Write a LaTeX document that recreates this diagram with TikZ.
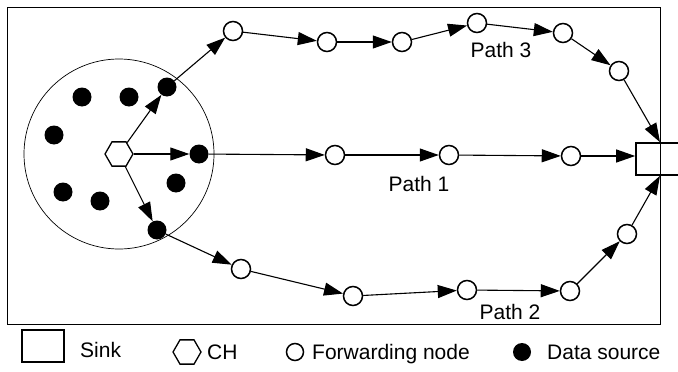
\documentclass[tikz,border=0pt]{standalone}
\usepackage{fontspec}
\setmainfont{Liberation Sans}
\usetikzlibrary{arrows.meta,shapes.geometric}
\begin{document}
\begin{tikzpicture}[x=1pt,y=-1pt,
  fwd/.style={circle,draw,line width=1.5pt,fill=white,minimum size=19pt,inner sep=0pt},
  src/.style={circle,fill=black,minimum size=19pt,inner sep=0pt},
  chnode/.style={regular polygon,regular polygon sides=6,draw,line width=1.3pt,fill=white,minimum size=28pt,inner sep=0pt},
  sinkbox/.style={rectangle,draw,line width=1.6pt,minimum width=48pt,minimum height=32pt,inner sep=0pt},
  link/.style={-{Triangle[length=19pt,width=13pt]},line width=1.1pt},
  lbl/.style={font=\fontsize{21}{25}\selectfont,inner sep=0pt}]
\clip (0,0) rectangle (678,372);
\fill[white] (0,0) rectangle (678,372);
% frame
\draw[line width=0.9pt] (7,7) rectangle (660,324);
% cluster
\draw[line width=0.7pt] (119,154) circle[radius=95];
% CH and data sources
\node[chnode] (ch) at (119,154) {};
\node[src] (sa) at (82,97) {};
\node[src] (sb) at (129,97) {};
\node[src] (sc) at (167,87) {};
\node[src] (sd) at (54,135) {};
\node[src] (se) at (199,154) {};
\node[src] (sf) at (176,183) {};
\node[src] (sg) at (63,192) {};
\node[src] (sh) at (100,201) {};
\node[src] (si) at (157,230) {};
% sink
\node[sinkbox] (sink) at (660,159) {};
% path 3
\node[fwd] (f31) at (233,31) {};
\node[fwd] (f32) at (327,42) {};
\node[fwd] (f33) at (402,42) {};
\node[fwd] (f34) at (477,23) {};
\node[fwd] (f35) at (563,33) {};
\node[fwd] (f36) at (619,71) {};
% path 1
\node[fwd] (f11) at (335,155) {};
\node[fwd] (f12) at (449,155) {};
\node[fwd] (f13) at (571,156) {};
% path 2
\node[fwd] (f21) at (241,269) {};
\node[fwd] (f22) at (353,296) {};
\node[fwd] (f23) at (467,290) {};
\node[fwd] (f24) at (570,291) {};
\node[fwd] (f25) at (627,234) {};
% connectors
\draw[link] (ch) -- (sc);
\draw[link] (ch) -- (se);
\draw[link] (ch) -- (si);
\draw[link] (sc) -- (f31);
\draw[link] (f31) -- (f32);
\draw[link] (f32) -- (f33);
\draw[link] (f33) -- (f34);
\draw[link] (f34) -- (f35);
\draw[link] (f35) -- (f36);
\draw[link] (f36) -- (sink.north);
\draw[link] (se) -- (f11);
\draw[link] (f11) -- (f12);
\draw[link] (f12) -- (f13);
\draw[link] (f13) -- (sink.west |- f13);
\draw[link] (si) -- (f21);
\draw[link] (f21) -- (f22);
\draw[link] (f22) -- (f23);
\draw[link] (f23) -- (f24);
\draw[link] (f24) -- (f25);
\draw[link] (f25) -- (sink.south);
% path labels
\node[lbl] (p3) at (501,50) {Path 3};
\node[lbl] (p1) at (419,184) {Path 1};
\node[lbl] (p2) at (510,312) {Path 2};
% legend
\node[sinkbox,line width=1.2pt,minimum width=42pt,minimum height=32pt] (lsink) at (43,346) {};
\node[lbl,anchor=base west] (tsink) at (80,357) {Sink};
\node[chnode] (lch) at (187,352) {};
\node[lbl,anchor=base west] (tch) at (207,359) {CH};
\node[fwd,minimum size=17pt] (lfwd) at (295,352) {};
\node[lbl,anchor=base west] (tfwd) at (312,359) {Forwarding node};
\node[src,minimum size=18pt] (lsrc) at (522,352) {};
\node[lbl,anchor=base west] (tsrc) at (547,359) {Data source};
\end{tikzpicture}
\end{document}
